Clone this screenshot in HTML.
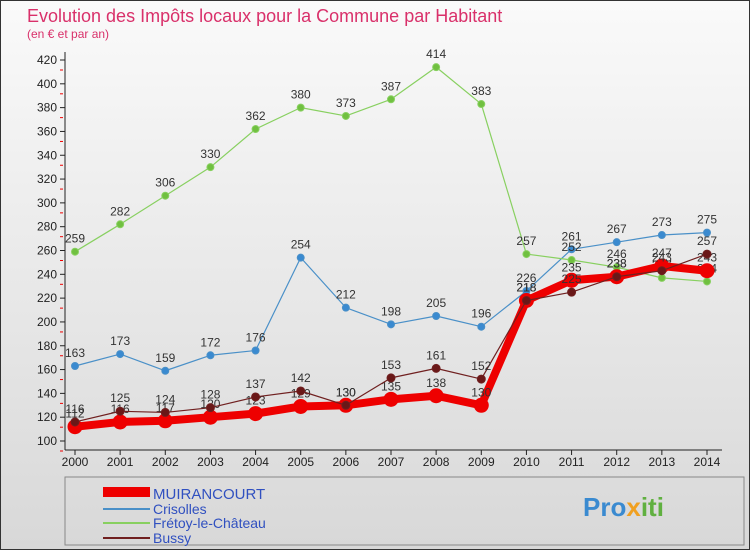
<!DOCTYPE html>
<html><head><meta charset="utf-8"><style>
body{margin:0;width:750px;height:550px;overflow:hidden;font-family:"Liberation Sans",sans-serif;}
</style></head><body>
<svg width="750" height="550" xmlns="http://www.w3.org/2000/svg">
<defs>
<linearGradient id="bg" x1="0" y1="0" x2="0" y2="1"><stop offset="0" stop-color="#fafafa"/><stop offset="1" stop-color="#d8d8d8"/></linearGradient>
</defs>
<rect x="0" y="0" width="750" height="550" fill="url(#bg)"/>
<rect x="0.5" y="0.5" width="749" height="549" fill="none" stroke="#333"/>
<text x="27" y="22" font-size="18" fill="#d9306a">Evolution des Impôts locaux pour la Commune par Habitant</text>
<text x="27" y="38" font-size="12" fill="#d9306a">(en € et par an)</text>
<g id="axes"></g>
<g id="series"></g>
<rect x="65" y="477" width="679" height="68" fill="none" stroke="#888"/>
<g>
<line x1="103" y1="492" x2="150" y2="492" stroke="#e00" stroke-width="10"/>
<text x="153" y="499" font-size="15" fill="#3050c0">MUIRANCOURT</text>
<line x1="103" y1="509" x2="150" y2="509" stroke="#4a90c8" stroke-width="2"/>
<text x="153" y="514" font-size="14" fill="#3050c0">Crisolles</text>
<line x1="103" y1="523" x2="150" y2="523" stroke="#88d060" stroke-width="2"/>
<text x="153" y="528" font-size="14" fill="#3050c0">Frétoy-le-Château</text>
<line x1="103" y1="538" x2="150" y2="538" stroke="#702020" stroke-width="2"/>
<text x="153" y="543" font-size="14" fill="#3050c0">Bussy</text>
</g>
<text x="583" y="516" font-size="26" font-weight="bold" fill="#3a8ad0">Pro<tspan fill="#f0a020">x</tspan><tspan fill="#60b040">iti</tspan></text>
</svg>
<script>
const years=[2000,2001,2002,2003,2004,2005,2006,2007,2008,2009,2010,2011,2012,2013,2014];
const yTicks=[100,120,140,160,180,200,220,240,260,280,300,320,340,360,380,400,420];
const muirancourt=[112,116,117,120,123,129,130,135,138,130,218,235,238,247,243];
const crisolles=[163,173,159,172,176,254,212,198,205,196,226,261,267,273,275];
const fretoy=[259,282,306,330,362,380,373,387,414,383,257,252,246,237,234];
const bussy=[116,125,124,128,137,142,130,153,161,152,218,225,238,243,257];
const NS="http://www.w3.org/2000/svg";
const axes=document.getElementById('axes'), ser=document.getElementById('series');
const xS=i=>75+i*(707-75)/(years.length-1);
const yS=v=>441-(v-100)*(441-60)/320;
function mk(t,a,p){const e=document.createElementNS(NS,t);for(const k in a)e.setAttribute(k,a[k]);p.appendChild(e);return e;}
let e=mk('line',{x1:65,y1:52,x2:65,y2:450,stroke:'#222'},axes);


e=mk('line',{x1:65,y1:450,x2:722,y2:450,stroke:'#222'},axes);


yTicks.forEach(v=>{
 const y=yS(v);
 mk('line',{x1:60,y1:y,x2:65,y2:y,stroke:'#222'},axes);
 mk('line',{x1:60,y1:y+10,x2:63,y2:y+10,stroke:'#e00'},axes);
 const t=mk('text',{x:57,y:y+4,'font-size':12,'text-anchor':'end',fill:'#222'},axes);
 t.textContent=v;
 
 
});
years.forEach((yr,i)=>{
 const x=xS(i);
 mk('line',{x1:x,y1:450,x2:x,y2:455,stroke:'#222'},axes);
 const t=mk('text',{x:x,y:466,'font-size':12,'text-anchor':'middle',fill:'#222'},axes);
 t.textContent=yr;
 
 
});
function draw(data,name,color,w,r,dot){
 const g=mk('g',{},ser);
 
 
 const pl=mk('polyline',{points:data.map((v,i)=>xS(i)+','+yS(v)).join(' '),fill:'none',stroke:color,'stroke-width':w,'stroke-linejoin':'round'},g);
 
 
 data.forEach((v,i)=>{
  const c=mk('circle',{cx:xS(i),cy:yS(v),r:r,fill:dot,stroke:color,'stroke-width':1},g);
  
  
  const t=mk('text',{x:xS(i),y:yS(v)-9,'font-size':12,'text-anchor':'middle',fill:'#333'},g);
  t.textContent=v;
  
  
 });
}
draw(crisolles,'crisolles','#4a90c8',1.2,3.5,'#3a8ad0');
draw(fretoy,'fretoy','#88d060',1.2,3.5,'#70c040');
draw(muirancourt,'muirancourt','#ee0000',8,7,'#ee0000');
draw(bussy,'bussy','#702020',1.2,4,'#6a1818');
</script>
</body></html>
